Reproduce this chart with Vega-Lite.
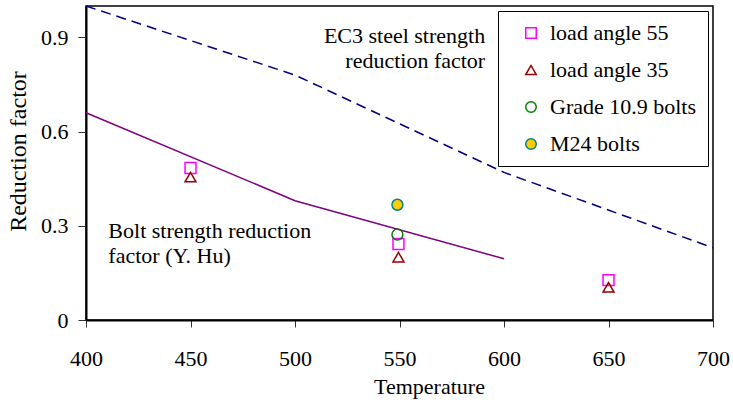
{
  "$schema": "https://vega.github.io/schema/vega-lite/v6.json",
  "width": 627,
  "height": 314,
  "autosize": "none",
  "padding": {"left": 86, "top": 6, "right": 20, "bottom": 82},
  "background": "white",
  "config": {
    "font": "Liberation Serif",
    "view": {"stroke": "#000", "strokeWidth": 1.5},
    "text": {"font": "Liberation Serif", "fontSize": 22},
    "axis": {
      "grid": false,
      "domainColor": "#000",
      "domainWidth": 2,
      "tickColor": "#333",
      "tickWidth": 1,
      "labelFont": "Liberation Serif",
      "labelFontSize": 22,
      "labelColor": "#000",
      "titleFont": "Liberation Serif",
      "titleFontWeight": "normal",
      "titleColor": "#000"
    },
    "legend": {
      "orient": "none",
      "legendX": 412,
      "legendY": 5,
      "strokeColor": "#000",
      "fillColor": "#fff",
      "padding": 11,
      "labelFont": "Liberation Serif",
      "labelFontSize": 22,
      "labelColor": "#000",
      "symbolSize": 110,
      "symbolStrokeWidth": 1.5,
      "rowPadding": 15,
      "labelOffset": 8,
      "symbolOffset": 11
    }
  },
  "datasets": {
    "ec3": [
      {"temperature": 400, "factor": 1.0},
      {"temperature": 500, "factor": 0.78},
      {"temperature": 600, "factor": 0.47},
      {"temperature": 700, "factor": 0.23}
    ],
    "bolt": [
      {"temperature": 400, "factor": 0.66},
      {"temperature": 500, "factor": 0.38},
      {"temperature": 600, "factor": 0.195}
    ],
    "tests": [
      {"temperature": 450, "factor": 0.484, "series": "load angle 55"},
      {"temperature": 549.5, "factor": 0.242, "series": "load angle 55"},
      {"temperature": 650, "factor": 0.127, "series": "load angle 55"},
      {"temperature": 450, "factor": 0.455, "series": "load angle 35"},
      {"temperature": 549.5, "factor": 0.2, "series": "load angle 35"},
      {"temperature": 650, "factor": 0.104, "series": "load angle 35"},
      {"temperature": 549, "factor": 0.272, "series": "Grade 10.9 bolts"},
      {"temperature": 549, "factor": 0.367, "series": "M24 bolts"}
    ],
    "notes": [
      {"temperature": 591, "factor": 0.881, "label": "EC3 steel strength", "side": "right"},
      {"temperature": 591, "factor": 0.8016, "label": "reduction factor", "side": "right"},
      {"temperature": 410.7, "factor": 0.261, "label": "Bolt strength reduction", "side": "left"},
      {"temperature": 410.7, "factor": 0.1815, "label": "factor (Y. Hu)", "side": "left"}
    ]
  },
  "encoding": {
    "x": {
      "field": "temperature",
      "type": "quantitative",
      "scale": {"domain": [400, 700], "nice": false, "zero": false},
      "axis": {
        "values": [400, 450, 500, 550, 600, 650, 700],
        "title": "Temperature",
        "titleFontSize": 22,
        "titleFont": "Liberation Serif",
        "labelFont": "Liberation Serif",
        "titleX": 343,
        "titleY": 73,
        "titleBaseline": "alphabetic",
        "tickSize": 7,
        "labelBaseline": "alphabetic",
        "labelPadding": 38,
        "labelFlush": false
      }
    },
    "y": {
      "field": "factor",
      "type": "quantitative",
      "scale": {"domain": [0, 1], "nice": false},
      "axis": {
        "values": [0, 0.3, 0.6, 0.9],
        "format": "~g",
        "title": "Reduction factor",
        "titleFontSize": 24,
        "titleFont": "Liberation Serif",
        "labelFont": "Liberation Serif",
        "titleX": -61,
        "titleY": 145,
        "titleAngle": 270,
        "titleAlign": "center",
        "titleBaseline": "alphabetic",
        "tickSize": 8,
        "labelPadding": 10,
        "labelBaseline": "middle",
        "labelFlush": false
      }
    }
  },
  "layer": [
    {
      "data": {"name": "ec3"},
      "mark": {"type": "line", "color": "#000080", "strokeWidth": 1.5, "strokeDash": [10, 6]}
    },
    {
      "data": {"name": "bolt"},
      "mark": {"type": "line", "color": "#800080", "strokeWidth": 1.5}
    },
    {
      "data": {"name": "tests"},
      "mark": {"type": "point", "filled": true, "size": 120, "strokeWidth": 1.5, "opacity": 1},
      "encoding": {
        "shape": {
          "field": "series",
          "type": "nominal",
          "scale": {
            "domain": ["load angle 55", "load angle 35", "Grade 10.9 bolts", "M24 bolts"],
            "range": ["square", "triangle-up", "circle", "circle"]
          },
          "legend": {"title": null, "labelFont": "Liberation Serif"}
        },
        "stroke": {
          "field": "series",
          "type": "nominal",
          "scale": {
            "domain": ["load angle 55", "load angle 35", "Grade 10.9 bolts", "M24 bolts"],
            "range": ["#FF00FF", "#990000", "#008000", "#008080"]
          },
          "legend": {"title": null, "labelFont": "Liberation Serif"}
        },
        "fill": {
          "field": "series",
          "type": "nominal",
          "scale": {
            "domain": ["load angle 55", "load angle 35", "Grade 10.9 bolts", "M24 bolts"],
            "range": ["transparent", "transparent", "transparent", "#FFCC00"]
          },
          "legend": {"title": null, "labelFont": "Liberation Serif"}
        }
      }
    },
    {
      "data": {"name": "notes"},
      "transform": [{"filter": "datum.side == 'right'"}],
      "mark": {"type": "text", "align": "right", "baseline": "alphabetic", "fontSize": 22, "font": "Liberation Serif", "color": "#000"},
      "encoding": {"text": {"field": "label", "type": "nominal"}}
    },
    {
      "data": {"name": "notes"},
      "transform": [{"filter": "datum.side == 'left'"}],
      "mark": {"type": "text", "align": "left", "baseline": "alphabetic", "fontSize": 22, "font": "Liberation Serif", "color": "#000"},
      "encoding": {"text": {"field": "label", "type": "nominal"}}
    }
  ]
}
